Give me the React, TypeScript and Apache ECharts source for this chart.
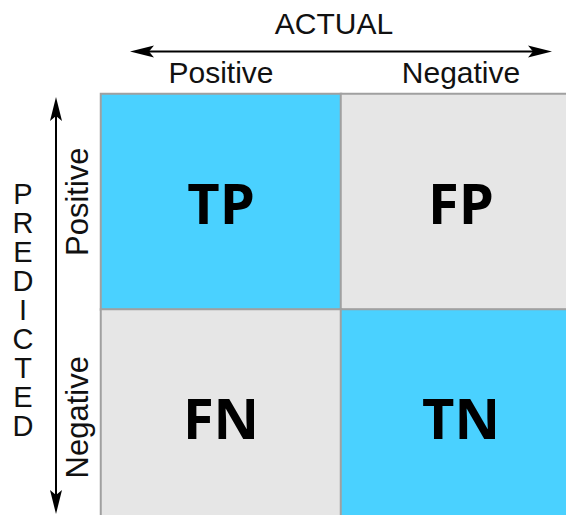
import React, { useEffect, useRef } from "react";
import * as echarts from "echarts";

const actualLabels = ["Positive", "Negative"];
const predictedLabels = ["Positive", "Negative"];
const cellNames = ["TP", "FP", "FN", "TN"];
// [actualIndex, predictedIndex, match(1 = correct prediction)]
const cellValues: [number, number, number][] = [
  [0, 0, 1],
  [1, 0, 0],
  [0, 1, 0],
  [1, 1, 1],
];
const actualTitle = "ACTUAL";
const predictedTitle = "PREDICTED";

const CYAN = "#4AD1FF";
const GREY = "#E6E6E6";
const BORDER = "#A0A0A0";
const SANS = "'Liberation Sans', Arial, sans-serif";

export default function App() {
  const ref = useRef<HTMLDivElement>(null);
  useEffect(() => {
    if (!ref.current) return;
    const chart = echarts.init(ref.current, undefined, { renderer: "svg" });
    const arrowStyle = { fill: "#000" };
    chart.setOption({
      animation: false,
      backgroundColor: "#fff",
      // the matrix runs past the right and bottom edges of the 566x515 view
      grid: { left: 101, top: 94, right: 0, bottom: 0 },
      xAxis: {
        type: "category",
        position: "top",
        data: actualLabels,
        name: actualTitle,
        nameLocation: "middle",
        nameGap: 56,
        nameTextStyle: { fontFamily: SANS, fontSize: 30, color: "#111", padding: [0, 14, 0, 0] },
        axisLine: { show: false },
        axisTick: { show: false },
        splitLine: { show: false },
        axisLabel: { fontFamily: SANS, fontSize: 30, color: "#111", margin: 7 },
      },
      yAxis: {
        type: "category",
        inverse: true,
        data: predictedLabels,
        name: predictedTitle.split("").join("\n"),
        nameLocation: "middle",
        nameRotate: 0,
        nameGap: 78,
        nameTextStyle: {
          fontFamily: SANS,
          fontSize: 29,
          lineHeight: 29,
          color: "#111",
          align: "center",
          verticalAlign: "middle",
        },
        axisLine: { show: false },
        axisTick: { show: false },
        splitLine: { show: false },
        axisLabel: { fontFamily: SANS, fontSize: 31, color: "#111", rotate: 90, margin: 8 },
      },
      visualMap: {
        type: "piecewise",
        show: false,
        dimension: 2,
        pieces: [
          { value: 1, color: CYAN },
          { value: 0, color: GREY },
        ],
      },
      series: [
        {
          type: "heatmap",
          data: cellValues,
          itemStyle: { borderColor: BORDER, borderWidth: 2 },
          emphasis: { disabled: true },
          label: {
            show: true,
            formatter: (p: any) => cellNames[p.dataIndex],
            fontFamily: "'Open Sans', sans-serif",
            fontWeight: "bold",
            fontSize: 56,
            color: "#000",
          },
        },
      ],
      graphic: [
        { type: "line", shape: { x1: 140, y1: 51.5, x2: 542, y2: 51.5 }, style: { stroke: "#000", lineWidth: 2 } },
        { type: "polygon", shape: { points: [[130, 51.5], [154, 45.5], [149, 51.5], [154, 57.5]] }, style: arrowStyle },
        { type: "polygon", shape: { points: [[552, 51.5], [528, 45.5], [533, 51.5], [528, 57.5]] }, style: arrowStyle },
        { type: "line", shape: { x1: 56, y1: 108, x2: 56, y2: 503 }, style: { stroke: "#000", lineWidth: 2 } },
        { type: "polygon", shape: { points: [[56, 97], [50, 121], [56, 116], [62, 121]] }, style: arrowStyle },
        { type: "polygon", shape: { points: [[56, 514], [50, 490], [56, 495], [62, 490]] }, style: arrowStyle },
      ],
    });
    return () => chart.dispose();
  }, []);
  return (
    <div
      ref={ref}
      style={{ position: "fixed", left: 0, top: 0, width: 581, height: 525 }}
    />
  );
}
